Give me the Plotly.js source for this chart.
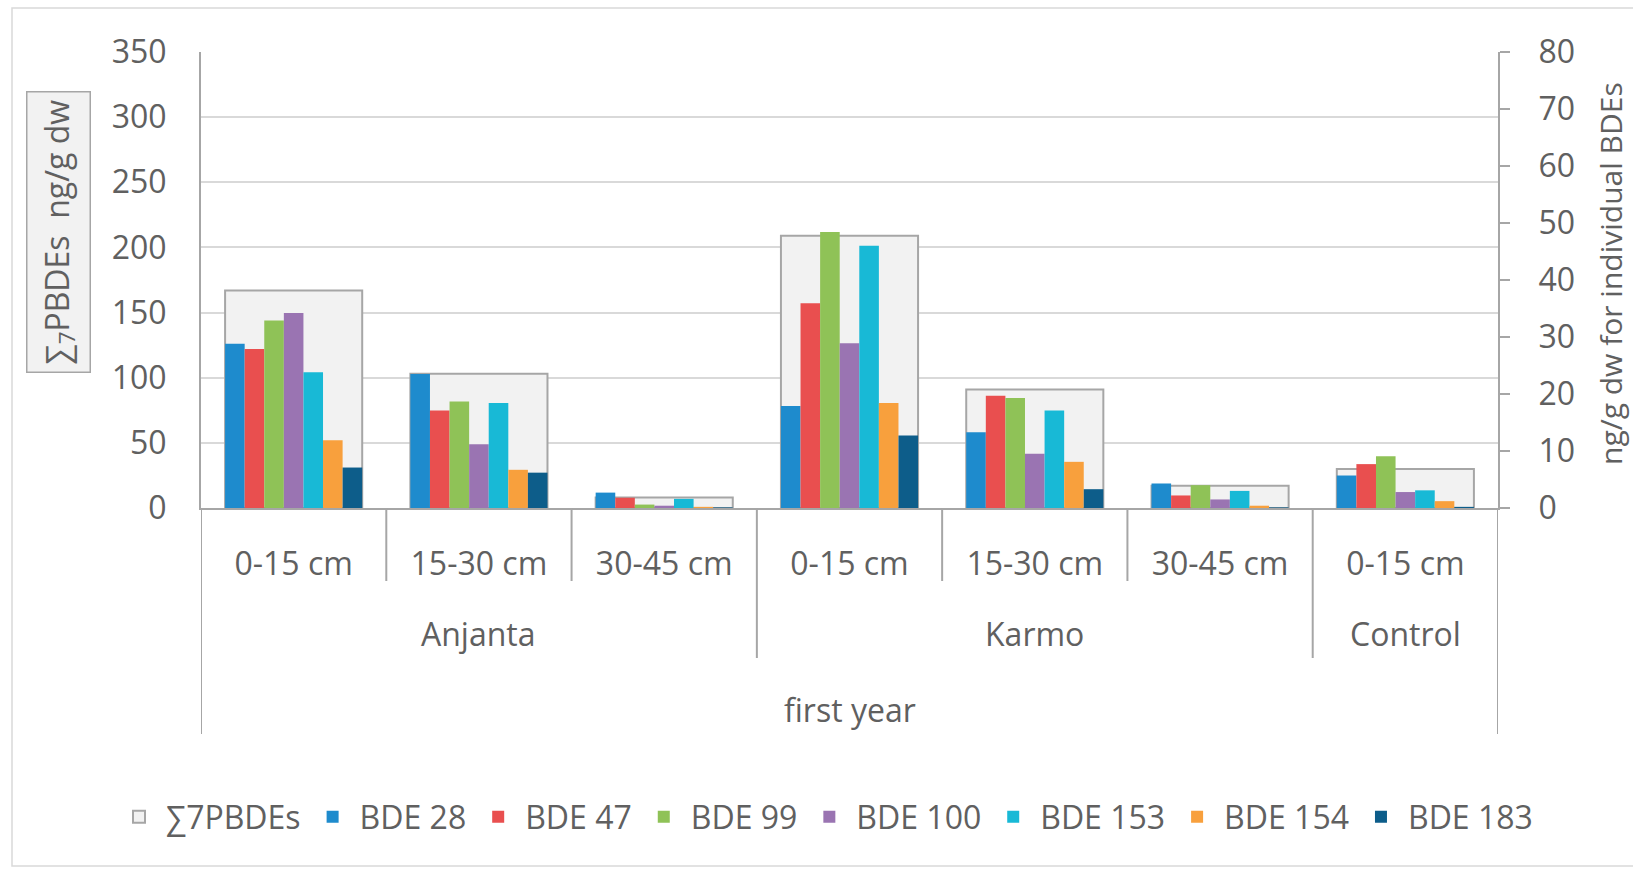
<!DOCTYPE html>
<html>
<head>
<meta charset="utf-8">
<script src="https://cdn.plot.ly/plotly-3.0.1.min.js"></script>
<style>
  html, body { margin: 0; padding: 0; background: #ffffff; }
  #chart { width: 1633px; height: 870px; }
</style>
</head>
<body>
<div id="chart"></div>
<script>
// Sampling positions: site and soil depth for the first year
const sites  = ['Anjanta', 'Anjanta', 'Anjanta', 'Karmo', 'Karmo', 'Karmo', 'Control'];
const depths = ['0-15 cm', '15-30 cm', '30-45 cm', '0-15 cm', '15-30 cm', '30-45 cm', '0-15 cm'];
const period = 'first year';

// Sum of 7 PBDEs (ng/g dw, left axis)
const sumPBDEs = [167, 103, 8, 209, 91, 17, 30];

// Individual congeners (ng/g dw, right axis)
const bde28  = [28.8, 23.5, 2.7, 17.9, 13.3, 4.3, 5.7];
const bde47  = [27.9, 17.1, 1.8, 35.9, 19.7, 2.2, 7.7];
const bde99  = [32.9, 18.7, 0.6, 48.4, 19.3, 4.0, 9.1];
const bde100 = [34.2, 11.2, 0.4, 28.9, 9.5, 1.5, 2.8];
const bde153 = [23.8, 18.4, 1.6, 46.0, 17.1, 3.0, 3.1];
const bde154 = [11.9, 6.7, 0.2, 18.4, 8.1, 0.4, 1.2];
const bde183 = [7.1, 6.2, 0.1, 12.7, 3.3, 0.1, 0.2];

const congenerNames = ['BDE 28', 'BDE 47', 'BDE 99', 'BDE 100', 'BDE 153', 'BDE 154', 'BDE 183'];
const congenerData  = [bde28, bde47, bde99, bde100, bde153, bde154, bde183];
const congenerColors = ['#1e8bcd', '#e94f4f', '#8fc257', '#9a74b2', '#18b9d6', '#f8a03d', '#0d5d8a'];

const FONT = 'Open Sans, Noto Sans, sans-serif';
const FS = 32;
const TXT = '#606060';
const LINE = '#a6a6a6';

const pos = sites.map((_, i) => i);
const cluster = 0.74;
const single = cluster / congenerData.length;

const traces = [{
  type: 'bar',
  name: '∑7PBDEs',
  x: pos,
  y: sumPBDEs,
  yaxis: 'y',
  width: cluster,
  offset: -cluster / 2,
  marker: { color: '#f2f2f2', line: { color: LINE, width: 2 } },
  hoverinfo: 'y'
}];

congenerData.forEach((vals, k) => {
  traces.push({
    type: 'bar',
    name: congenerNames[k],
    x: pos,
    y: vals,
    yaxis: 'y2',
    width: single,
    offset: -cluster / 2 + k * single,
    marker: { color: congenerColors[k], line: { width: 0 } },
    hoverinfo: 'y'
  });
});

// Plot-area geometry in pixels, used to place the hierarchy labels below the axis
const W = 1633, H = 870;
const mL = 201, mR = 135, mT = 52, mB = 362;
const plotH = H - mT - mB;
const plotW = W - mL - mR;
const py = px => (H - mB - px) / plotH;   // pixel row -> paper y
const pxX = px => (px - mL) / plotW;      // pixel column -> paper x

const shapes = [];
const lineStyle = { color: LINE, width: 2 };

// dividers between depths (short), between sites (medium), and outer frame lines (long)
for (let i = 0; i < pos.length - 1; i++) {
  const b = i + 0.5;
  const bottom = sites[i] !== sites[i + 1] ? py(658) : py(581);
  shapes.push({ type: 'line', xref: 'x', yref: 'paper', x0: b, x1: b, y0: 0, y1: bottom, line: lineStyle });
}
[-0.5, pos.length - 0.5].forEach(b => {
  shapes.push({ type: 'line', xref: 'x', yref: 'paper', x0: b, x1: b, y0: 0, y1: py(734), line: lineStyle });
});

// chart-area frame
shapes.push({
  type: 'rect', xref: 'paper', yref: 'paper',
  x0: pxX(12), x1: pxX(1645), y0: py(866), y1: py(8),
  line: { color: '#d9d9d9', width: 1.5 }, fillcolor: 'rgba(0,0,0,0)', layer: 'below'
});

const annotations = [];
// site labels centred under their groups
[...new Set(sites)].forEach(s => {
  const idx = pos.filter(i => sites[i] === s);
  const c = (idx[0] + idx[idx.length - 1]) / 2;
  annotations.push({
    xref: 'x', yref: 'paper', x: c, y: py(633), text: s, showarrow: false,
    xanchor: 'center', yanchor: 'middle', font: { family: FONT, size: FS, color: TXT }
  });
});
annotations.push({
  xref: 'x', yref: 'paper', x: (pos[0] + pos[pos.length - 1]) / 2, y: py(709), text: period,
  showarrow: false, xanchor: 'center', yanchor: 'middle', font: { family: FONT, size: FS, color: TXT }
});
// left axis title in a framed box
annotations.push({
  xref: 'paper', yref: 'paper', x: pxX(58), y: py(232), text: '∑<sub>7</sub>PBDEs  ng/g dw',
  textangle: -90, showarrow: false, xanchor: 'center', yanchor: 'middle',
  bgcolor: '#f2f2f2', bordercolor: LINE, borderwidth: 1.5, borderpad: 7,
  font: { family: FONT, size: FS, color: TXT }
});
// right axis title
annotations.push({
  xref: 'paper', yref: 'paper', x: pxX(1610), y: py(273), text: 'ng/g dw for individual BDEs',
  textangle: -90, showarrow: false, xanchor: 'center', yanchor: 'middle',
  font: { family: FONT, size: 30, color: TXT }
});

const layout = {
  width: W, height: H,
  margin: { l: mL, r: mR, t: mT, b: mB, pad: 0 },
  paper_bgcolor: '#ffffff', plot_bgcolor: '#ffffff',
  font: { family: FONT, size: FS, color: TXT },
  barmode: 'group',
  showlegend: true,
  legend: {
    orientation: 'h', x: pxX(112), xanchor: 'left', y: py(817), yanchor: 'middle',
    font: { family: FONT, size: FS, color: TXT }, itemwidth: 44, tracegroupgap: 0
  },
  xaxis: {
    type: 'linear', range: [-0.5, pos.length - 0.5],
    tickmode: 'array', tickvals: pos, ticktext: depths,
    showgrid: false, zeroline: false, showline: true, linecolor: LINE, linewidth: 2,
    ticks: '', ticklabelstandoff: 27, tickfont: { family: FONT, size: FS, color: TXT }
  },
  yaxis: {
    range: [0, 350], dtick: 50, tick0: 0,
    showgrid: true, gridcolor: '#d9d9d9', gridwidth: 2,
    zeroline: false, showline: true, linecolor: LINE, linewidth: 2,
    ticks: '', ticklabelstandoff: 26, tickfont: { family: FONT, size: FS, color: TXT }
  },
  yaxis2: {
    overlaying: 'y', side: 'right', range: [0, 80], dtick: 10, tick0: 0,
    showgrid: false, zeroline: false, showline: true, linecolor: LINE, linewidth: 2,
    ticks: 'outside', ticklen: 10, tickwidth: 2, tickcolor: LINE, ticklabelstandoff: 22,
    tickfont: { family: FONT, size: FS, color: TXT }
  },
  shapes: shapes,
  annotations: annotations
};

Plotly.newPlot('chart', traces, layout, { displayModeBar: false, staticPlot: true });
</script>
</body>
</html>
